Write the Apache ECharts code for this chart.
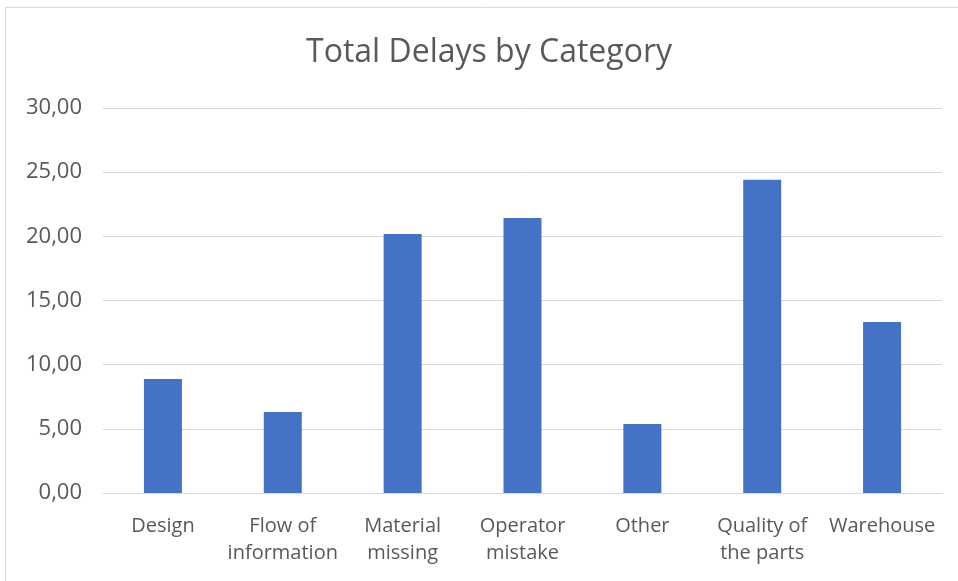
<!DOCTYPE html>
<html>
<head>
<meta charset="utf-8">
<script src="https://cdn.jsdelivr.net/npm/echarts@6/dist/echarts.min.js"></script>
<style>
html,body{margin:0;padding:0;background:#fff;}
#c{width:958px;height:581px;}
</style>
</head>
<body>
<div id="c"></div>
<script>
const titleText = "Total Delays by Category";
const categories = ["Design", "Flow of\ninformation", "Material\nmissing", "Operator\nmistake", "Other", "Quality of\nthe parts", "Warehouse"];
const delays = [8.88, 6.31, 20.18, 21.43, 5.38, 24.40, 13.33];
const yMin = 0, yMax = 30, yStep = 5;

const font = "Open Sans, Noto Sans, sans-serif";
const chart = echarts.init(document.getElementById('c'));
chart.setOption({
  backgroundColor: '#fff',
  animation: false,
  graphic: [{
    type: 'rect',
    shape: { x: 5.5, y: 7.5, width: 960, height: 600 },
    style: { fill: 'none', stroke: '#d9d9d9', lineWidth: 1 },
    silent: true
  }],
  title: {
    text: titleText,
    left: 301,
    top: 32,
    textStyle: { fontFamily: font, fontWeight: 'normal', fontSize: 32, color: '#595959' }
  },
  grid: { left: 103, right: 16, top: 108, bottom: 88 },
  xAxis: {
    type: 'category',
    data: categories,
    axisLine: { lineStyle: { color: '#d9d9d9', width: 1 } },
    axisTick: { show: false },
    axisLabel: { fontFamily: font, fontSize: 20, color: '#595959', margin: 20, lineHeight: 27, interval: 0 }
  },
  yAxis: {
    type: 'value',
    min: yMin, max: yMax, interval: yStep,
    axisLine: { show: false },
    axisTick: { show: false },
    splitLine: { lineStyle: { color: '#d9d9d9', width: 1 } },
    axisLabel: {
      fontFamily: font, fontSize: 22, color: '#595959', margin: 21,
      formatter: v => v.toFixed(2).replace('.', ',')
    }
  },
  series: [{
    type: 'bar',
    data: delays,
    barWidth: 38,
    itemStyle: { color: '#4472c4' }
  }]
});
</script>
</body>
</html>
